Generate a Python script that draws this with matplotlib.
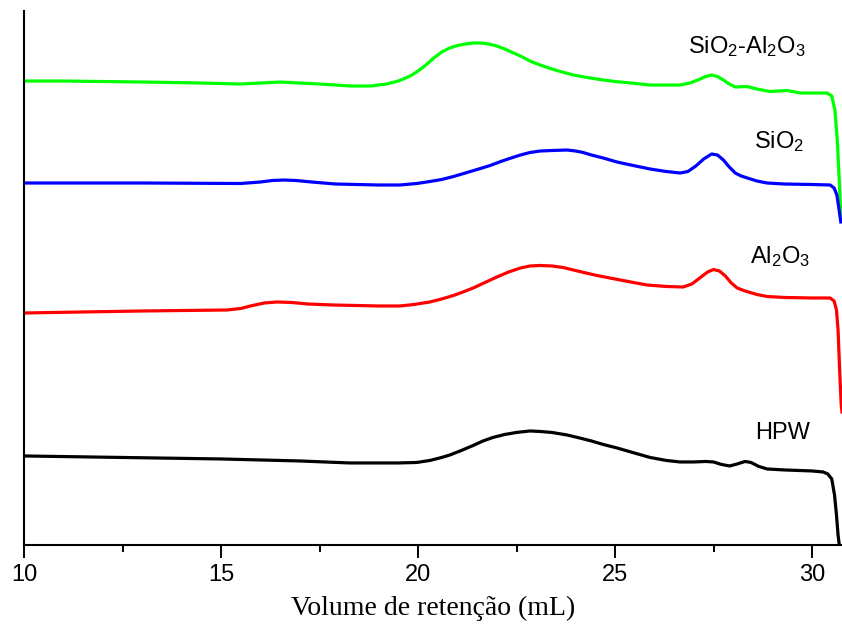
import numpy as np
import matplotlib
matplotlib.use('Agg')
import matplotlib.pyplot as plt
from matplotlib.ticker import MultipleLocator

plt.rcParams['font.family'] = ['Liberation Sans', 'DejaVu Sans']
plt.rcParams['mathtext.fontset'] = 'custom'
plt.rcParams['mathtext.rm'] = 'Liberation Sans'
plt.rcParams['mathtext.it'] = 'Liberation Sans:italic'

# retention volume (mL) and detector signal (arb. units)
x_sial = [10, 11, 13, 14.5, 15.5, 16.5, 17.5, 18.3, 18.8, 19.2, 19.5, 19.8, 20.0, 20.2, 20.4, 20.6, 20.8,
          21.0, 21.2, 21.4, 21.6, 21.8, 22.0, 22.2, 22.4, 22.6, 22.84, 23.1, 23.4, 23.7, 24.0, 24.3,
          24.62, 25.0, 25.4, 25.89, 26.3, 26.65, 26.9, 27.1, 27.3, 27.45, 27.6, 27.75, 27.9, 28.05,
          28.35, 28.6, 28.93, 29.15, 29.37, 29.7, 30.0, 30.38, 30.5, 30.58, 30.64, 30.69, 30.73]
y_sial = [464, 464, 463, 462, 461, 463, 461, 459, 459, 461, 464, 469, 474, 480, 487, 493, 497,
          499.5, 501, 502, 502, 501, 499, 496, 492.5, 489, 484, 480, 476, 472.5, 469.5, 467.5,
          465.5, 463.5, 462, 460, 460, 460, 462, 465, 468.5, 470, 468.5, 465, 461, 458,
          458.5, 456, 453.5, 454, 454.5, 452, 452, 452, 449, 435, 405, 365, 330]

x_si = [10, 13, 15.5, 16.0, 16.3, 16.6, 16.9, 17.3, 17.9, 19.0, 19.54, 19.97, 20.3, 20.6, 20.9, 21.2,
        21.5, 21.83, 22.1, 22.4, 22.6, 22.84, 23.1, 23.4, 23.78, 24.0, 24.19, 24.4, 24.7, 25.05,
        25.4, 25.89, 26.3, 26.65, 26.85, 27.05, 27.25, 27.45, 27.6, 27.75, 27.9, 28.05, 28.2,
        28.4, 28.6, 28.86, 29.3, 30.0, 30.46, 30.56, 30.63, 30.68, 30.73]
y_si = [362, 362, 361.5, 363, 364.5, 365, 364.5, 363, 361, 360, 360, 361.5, 363.5, 365.5, 368.5, 372,
        375.5, 379.5, 383.5, 387.5, 390, 392.5, 394, 394.5, 395, 394, 392.5, 390, 387, 383,
        380, 376, 373.5, 372, 373.5, 379, 386, 391, 390, 385, 378, 372, 369,
        366.5, 364, 362, 361, 360.5, 360, 357, 350, 337, 323]

x_al = [10, 13, 15.15, 15.5, 15.8, 16.1, 16.42, 16.8, 17.2, 17.84, 19.0, 19.54, 19.9, 20.3, 20.6,
        20.9, 21.14, 21.4, 21.7, 22.0, 22.3, 22.6, 22.84, 23.1, 23.4, 23.68, 24.1, 24.54, 25.0,
        25.4, 25.81, 26.3, 26.73, 26.95, 27.15, 27.35, 27.5, 27.65, 27.8, 27.95, 28.1, 28.3,
        28.6, 28.86, 29.3, 30.0, 30.46, 30.56, 30.62, 30.66, 30.7, 30.74, 30.76]
y_al = [232, 234, 235, 236.5, 239.5, 242, 243, 242.5, 241, 240, 239, 239, 240.5, 243, 246,
        249.5, 253, 257, 262.5, 268, 273, 277, 279, 279.5, 279, 277.5, 273.5, 269.5, 266,
        263, 260, 258.5, 258, 261, 267, 273, 275.5, 274, 269, 262, 257, 254,
        250.5, 248.5, 247.5, 247, 247, 244, 235, 215, 175, 140, 133]

x_hpw = [10, 12.5, 15, 17, 18.27, 19.5, 19.97, 20.3, 20.6, 20.81, 21.1, 21.4, 21.65, 21.9, 22.2,
         22.5, 22.84, 23.1, 23.4, 23.78, 24.1, 24.4, 24.7, 25.05, 25.4, 25.89, 26.3, 26.65, 27.0,
         27.3, 27.5, 27.7, 27.91, 28.1, 28.3, 28.45, 28.65, 28.86, 29.3, 30.0, 30.28, 30.4, 30.5,
         30.57, 30.62, 30.66, 30.7]
y_hpw = [89, 87.5, 86, 84, 82, 82, 82.5, 84.5, 87.5, 90, 94.5, 99.5, 104, 107.5, 110.5,
         112.5, 114, 113.5, 112.5, 110, 107, 104, 100.5, 97, 93, 87.5, 84.5, 83, 83,
         83.5, 83, 80.5, 79, 81, 83.5, 82.5, 78.5, 76, 75, 74, 73, 71, 66,
         50, 30, 10, -3]

labels = ['SiO$_{2}$-Al$_{2}$O$_{3}$', 'SiO$_{2}$', 'Al$_{2}$O$_{3}$', 'HPW']
label_pos = [(28.33, 498), (29.16, 403), (29.19, 288), (29.24, 112)]

fig = plt.figure(figsize=(8.42, 6.3), dpi=100)
ax = fig.add_axes([0.0285, 0.135, 0.9715, 0.8475])

ax.plot(x_sial, y_sial, color='#00ff00', lw=2.3)
ax.plot(x_si, y_si, color='#0000ff', lw=2.3)
ax.plot(x_al, y_al, color='#ff0000', lw=2.3)
ax.plot(x_hpw, y_hpw, color='black', lw=2.3)

for txt, (tx, ty) in zip(labels, label_pos):
    ax.text(tx, ty, txt, fontsize=17, ha='center', va='center')

ax.set_xlim(10, 30.76)
ax.set_ylim(0, 534)
ax.xaxis.set_major_locator(MultipleLocator(5))
ax.xaxis.set_minor_locator(MultipleLocator(2.5))
ax.tick_params(axis='x', which='major', direction='out', length=9, width=1.4, labelsize=17, pad=5)
ax.tick_params(axis='x', which='minor', direction='out', length=5, width=1.4)
ax.set_yticks([])
ax.spines['top'].set_visible(False)
ax.spines['right'].set_visible(False)
ax.spines['left'].set_linewidth(1.5)
ax.spines['bottom'].set_linewidth(1.5)

ax.set_xlabel('Volume de retenção (mL)', fontsize=20, family='Liberation Serif', labelpad=7)

fig.savefig('out.png', dpi=100)
